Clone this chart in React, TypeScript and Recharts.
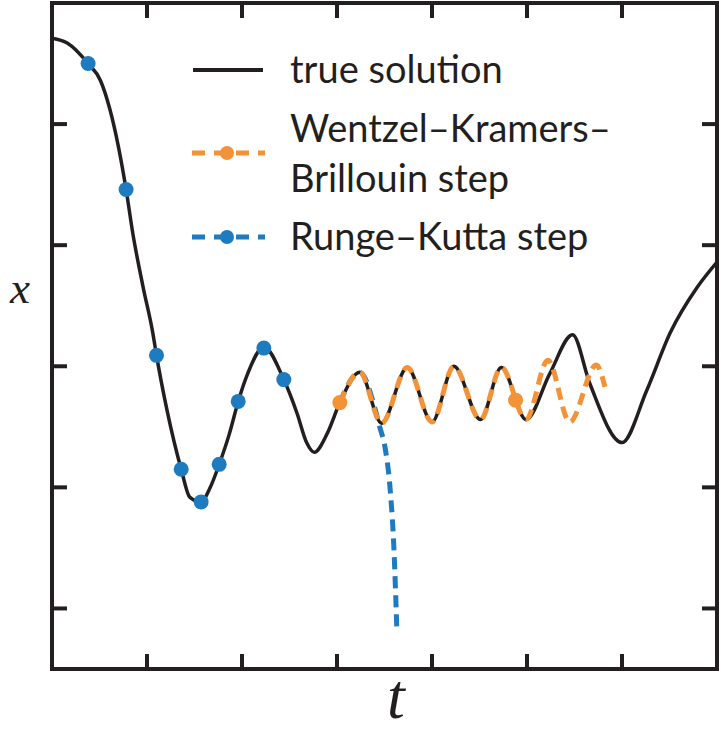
import { ComposedChart, Legend, Line, Scatter, XAxis, YAxis } from 'recharts'

const INK = '#231f20'
const ORANGE = '#f39237'
const BLUE = '#1f7bbf'

// true solution
const TRUE_T = [0, 0.16, 0.38, 0.51, 0.61, 0.7, 0.78, 0.85, 0.96, 1.06, 1.1, 1.21, 1.36, 1.45, 1.57, 1.66, 1.76, 1.87, 1.96, 2.06, 2.23, 2.44, 2.58, 2.68, 2.76, 2.9, 3.03, 3.24, 3.47, 3.74, 4.0, 4.23, 4.51, 4.73, 4.99, 5.24, 5.48, 5.66, 6.0, 6.26, 6.51, 6.79, 7.0]
const TRUE_X = [3.71, 3.67, 3.5, 3.36, 3.12, 2.81, 2.46, 2.1, 1.65, 1.28, 1.09, 0.64, 0.15, -0.08, -0.12, -0.01, 0.19, 0.45, 0.71, 0.94, 1.16, 0.89, 0.61, 0.37, 0.29, 0.45, 0.7, 0.95, 0.53, 0.99, 0.54, 1.0, 0.56, 0.99, 0.56, 0.94, 1.26, 0.86, 0.37, 0.8, 1.28, 1.65, 1.86]

// Wentzel–Kramers–Brillouin step
const WKB_T = [3.03, 3.24, 3.47, 3.74, 4.0, 4.23, 4.51, 4.73, 4.99, 5.22, 5.45, 5.73, 5.82]
const WKB_X = [0.7, 0.95, 0.53, 0.99, 0.54, 1.0, 0.56, 0.99, 0.56, 1.05, 0.54, 1.01, 0.83]
const WKB_DOT_T = [3.03, 4.88]
const WKB_DOT_X = [0.7, 0.72]

// Runge–Kutta step
const RK_T = [3.03, 3.24, 3.41, 3.45, 3.51, 3.56, 3.6, 3.63]
const RK_X = [0.7, 0.95, 0.62, 0.5, 0.31, -0.02, -0.52, -1.18]
const RK_DOT_T = [0.38, 0.78, 1.1, 1.36, 1.57, 1.76, 1.96, 2.23, 2.44]
const RK_DOT_X = [3.5, 2.46, 1.09, 0.15, -0.12, 0.19, 0.71, 1.15, 0.89]

const T_TICKS = [1, 2, 3, 4, 5, 6]
const X_TICKS = [-1, 0, 1, 2, 3]

const zip = (ts: number[], xs: number[]) => ts.map((t, i) => ({ t, x: xs[i] }))

const trueData = zip(TRUE_T, TRUE_X)
const wkbData = zip(WKB_T, WKB_X)
const wkbDots = zip(WKB_DOT_T, WKB_DOT_X)
const rkData = zip(RK_T, RK_X)
const rkDots = zip(RK_DOT_T, RK_DOT_X)

const W = 721
const H = 733
const MARGIN = { top: 2, right: 3, bottom: 63, left: 51 }
const PLOT_TOP = MARGIN.top + 1
const PLOT_RIGHT = W - MARGIN.right - 1
const TICK_LEN = 15

// box frame, no tick labels
const frame = {
  axisLine: { stroke: INK, strokeWidth: 4, strokeLinecap: 'square' as const },
  tickLine: { stroke: INK, strokeWidth: 4 },
  allowDataOverflow: true,
  type: 'number' as const,
}

// the bottom and left tick renderers also mirror each tick onto the top and right edges
const bottomTick = (p: any) => <line x1={p.x} x2={p.x} y1={PLOT_TOP} y2={PLOT_TOP + TICK_LEN} stroke={INK} strokeWidth={4} />
const leftTick = (p: any) => <line x1={PLOT_RIGHT} x2={PLOT_RIGHT - TICK_LEN} y1={p.y} y2={p.y} stroke={INK} strokeWidth={4} />

function LegendBox() {
  const text = { position: 'absolute' as const, left: 290, whiteSpace: 'nowrap' as const }
  return (
    <div style={{ position: 'relative', width: 721, height: 300, fontFamily: 'Lato', fontSize: 38, lineHeight: '50px', color: INK }}>
      <svg style={{ position: 'absolute', left: 0, top: 0 }} width={721} height={300}>
        <line x1={193} x2={263} y1={70} y2={70} stroke={INK} strokeWidth={4} />
        <line x1={192} x2={265} y1={153} y2={153} stroke={ORANGE} strokeWidth={5} strokeDasharray="13 9" />
        <circle cx={227} cy={153} r={7} fill={ORANGE} />
        <line x1={192} x2={265} y1={237} y2={237} stroke={BLUE} strokeWidth={5} strokeDasharray="13 9" />
        <circle cx={227} cy={237} r={7} fill={BLUE} />
      </svg>
      <div style={{ ...text, top: 43 }}>true solution</div>
      <div style={{ ...text, top: 102 }}>
        Wentzel–Kramers–
        <br />
        Brillouin step
      </div>
      <div style={{ ...text, top: 210 }}>Runge–Kutta step</div>
    </div>
  )
}

const dot = (color: string) => (p: any) => <circle cx={p.cx} cy={p.cy} r={7.5} fill={color} />

export default function App() {
  return (
    <div style={{ position: 'absolute', left: 0, top: 0 }}>
      <ComposedChart width={W} height={H} margin={MARGIN}>
        <XAxis
          {...frame}
          xAxisId="b"
          dataKey="t"
          domain={[0, 7]}
          ticks={T_TICKS}
          height={1}
          tick={bottomTick}
          tickSize={-TICK_LEN}
          label={() => (
            <text x={396} y={718} textAnchor="middle" fontFamily="Liberation Serif" fontStyle="italic" fontSize={64} fill={INK}>
              t
            </text>
          )}
        />
        <XAxis {...frame} xAxisId="top" orientation="top" dataKey="t" domain={[0, 7]} ticks={T_TICKS} height={1} tick={false} tickLine={false} />
        <YAxis
          {...frame}
          yAxisId="l"
          dataKey="x"
          domain={[-1.5, 4]}
          ticks={X_TICKS}
          width={1}
          tick={leftTick}
          tickSize={-TICK_LEN}
          label={() => (
            <text x={20} y={303} textAnchor="middle" fontFamily="Liberation Serif" fontStyle="italic" fontSize={45} fill={INK}>
              x
            </text>
          )}
        />
        <YAxis {...frame} yAxisId="r" orientation="right" dataKey="x" domain={[-1.5, 4]} ticks={X_TICKS} width={1} tick={false} tickLine={false} />
        <Legend layout="vertical" align="center" verticalAlign="middle" content={() => <LegendBox />} wrapperStyle={{ left: 0, top: 0, width: 721 }} />
        {/* invisible copy so the top and right axes get a scale */}
        <Line xAxisId="top" yAxisId="r" data={trueData} dataKey="x" stroke="none" dot={false} activeDot={false} legendType="none" isAnimationActive={false} />
        <Line xAxisId="b" yAxisId="l" data={trueData} dataKey="x" type="monotone" stroke={INK} strokeWidth={3.5} dot={false} activeDot={false} isAnimationActive={false} />
        <Line xAxisId="b" yAxisId="l" data={rkData} dataKey="x" type="monotone" stroke={BLUE} strokeWidth={5} strokeDasharray="12 7" dot={false} activeDot={false} isAnimationActive={false} />
        <Line xAxisId="b" yAxisId="l" data={wkbData} dataKey="x" type="monotone" stroke={ORANGE} strokeWidth={5} strokeDasharray="12 7" dot={false} activeDot={false} isAnimationActive={false} />
        <Scatter xAxisId="b" yAxisId="l" data={rkDots} dataKey="x" shape={dot(BLUE)} isAnimationActive={false} />
        <Scatter xAxisId="b" yAxisId="l" data={wkbDots} dataKey="x" shape={dot(ORANGE)} isAnimationActive={false} />
      </ComposedChart>
    </div>
  )
}
